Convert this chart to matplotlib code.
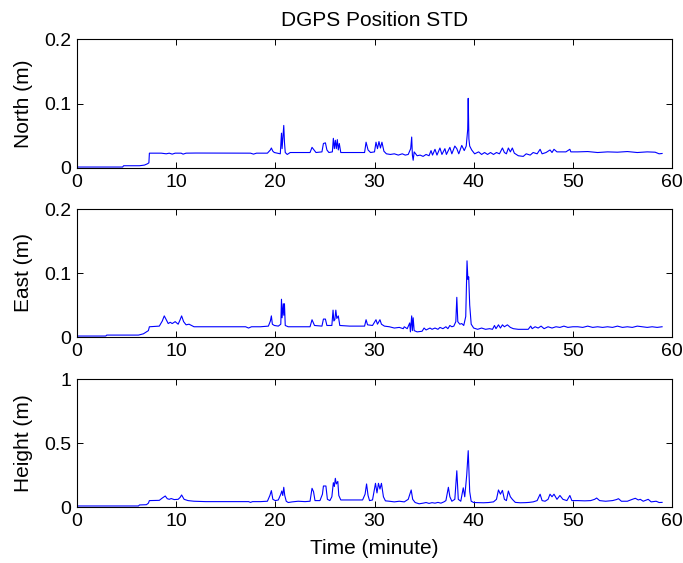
import matplotlib
matplotlib.use("Agg")
import matplotlib.pyplot as plt

plt.rcParams['font.family'] = ['Liberation Sans', 'DejaVu Sans']

title = "DGPS Position STD"
xlabel = "Time (minute)"
ylabels = ["North (m)", "East (m)", "Height (m)"]
xticks = [0, 10, 20, 30, 40, 50, 60]
yticks_ne = [0, 0.1, 0.2]
yticks_h = [0, 0.5, 1]
ytick_labels_ne = ["0", "0.1", "0.2"]
ytick_labels_h = ["0", "0.5", "1"]

north = [(0, 0.0015), (4.6, 0.0015), (4.7, 0.0035), (6.3, 0.0035), (6.8, 0.0045), (7.1, 0.0065), (7.25, 0.008),
         (7.3, 0.023), (8.5, 0.023), (9.0, 0.022), (9.3, 0.023), (9.6, 0.0215), (9.9, 0.023), (10.5, 0.023),
         (10.7, 0.0215), (11.0, 0.023), (12, 0.0232), (15, 0.023), (17.5, 0.023), (17.8, 0.0215), (18.1, 0.023),
         (19.2, 0.023), (19.5, 0.028), (19.6, 0.031), (19.75, 0.026), (19.9, 0.024), (20.2, 0.023), (20.5, 0.022),
         (20.62, 0.054), (20.68, 0.030), (20.75, 0.045), (20.85, 0.066), (20.92, 0.040), (21.0, 0.024), (21.2, 0.021),
         (21.5, 0.024), (22.5, 0.024), (23.5, 0.024), (23.7, 0.032), (23.9, 0.028), (24.1, 0.024), (24.7, 0.025),
         (24.85, 0.038), (25.05, 0.039), (25.2, 0.028), (25.4, 0.024), (25.75, 0.025), (25.85, 0.046), (25.95, 0.030),
         (26.05, 0.043), (26.15, 0.030), (26.25, 0.044), (26.35, 0.028), (26.45, 0.038), (26.6, 0.024), (27.5, 0.024),
         (29.0, 0.024), (29.15, 0.040), (29.35, 0.028), (29.6, 0.024), (30.0, 0.025), (30.15, 0.040), (30.3, 0.030),
         (30.45, 0.041), (30.6, 0.031), (30.75, 0.040), (30.95, 0.026), (31.2, 0.022), (31.6, 0.021), (32.0, 0.022),
         (32.4, 0.020), (32.8, 0.022), (33.1, 0.020), (33.4, 0.021), (33.65, 0.030), (33.75, 0.048), (33.82, 0.020),
         (33.9, 0.012), (34.0, 0.025), (34.3, 0.019), (34.6, 0.020), (34.9, 0.018), (35.2, 0.021), (35.5, 0.019),
         (35.7, 0.027), (35.85, 0.020), (36.1, 0.029), (36.3, 0.020), (36.6, 0.031), (36.8, 0.021), (37.1, 0.030),
         (37.25, 0.021), (37.6, 0.032), (37.8, 0.022), (38.1, 0.034), (38.3, 0.030), (38.5, 0.022), (38.8, 0.035),
         (39.05, 0.027), (39.25, 0.034), (39.4, 0.060), (39.45, 0.108), (39.52, 0.045), (39.6, 0.034), (39.8, 0.028),
         (40.1, 0.022), (40.5, 0.025), (40.8, 0.021), (41.1, 0.024), (41.4, 0.021), (41.7, 0.024), (42.0, 0.021),
         (42.3, 0.024), (42.6, 0.022), (42.9, 0.031), (43.1, 0.024), (43.3, 0.022), (43.5, 0.031), (43.7, 0.025),
         (43.9, 0.031), (44.1, 0.023), (44.5, 0.019), (45.0, 0.018), (45.3, 0.022), (45.7, 0.020), (46.0, 0.024),
         (46.4, 0.022), (46.7, 0.029), (46.9, 0.022), (47.3, 0.024), (47.7, 0.028), (47.9, 0.024), (48.1, 0.029),
         (48.4, 0.025), (48.8, 0.025), (49.3, 0.025), (49.7, 0.029), (49.8, 0.025), (50.5, 0.025), (51.5, 0.0255),
         (52.5, 0.024), (53.5, 0.025), (54.5, 0.0245), (55.5, 0.0255), (56.5, 0.024), (57.5, 0.025), (58.3, 0.0245),
         (58.7, 0.022), (59.0, 0.0225)]

east = [(0, 0.0015), (2.9, 0.0015), (3.0, 0.003), (6.2, 0.003), (6.7, 0.005), (7.0, 0.008), (7.2, 0.010), (7.3, 0.016),
        (8.3, 0.017), (8.6, 0.025), (8.8, 0.033), (9.0, 0.027), (9.2, 0.021), (9.4, 0.023), (9.6, 0.021), (9.9, 0.024),
        (10.2, 0.020), (10.4, 0.027), (10.55, 0.033), (10.75, 0.024), (11.0, 0.019), (11.3, 0.020), (11.8, 0.016),
        (13, 0.016), (16, 0.016), (17.0, 0.016), (17.3, 0.014), (17.6, 0.016), (18.5, 0.016), (19.3, 0.017),
        (19.5, 0.025), (19.6, 0.033), (19.7, 0.020), (19.9, 0.018), (20.3, 0.017), (20.55, 0.020), (20.62, 0.059),
        (20.68, 0.030), (20.8, 0.052), (20.85, 0.034), (20.92, 0.052), (21.0, 0.018), (21.3, 0.016), (23.5, 0.016),
        (23.7, 0.027), (23.95, 0.018), (24.7, 0.017), (24.85, 0.028), (25.05, 0.028), (25.2, 0.018), (25.7, 0.018),
        (25.82, 0.042), (25.9, 0.025), (26.0, 0.027), (26.1, 0.042), (26.2, 0.029), (26.35, 0.033), (26.5, 0.018),
        (27.5, 0.017), (29.0, 0.017), (29.15, 0.027), (29.3, 0.019), (29.8, 0.018), (30.15, 0.027), (30.3, 0.020),
        (30.55, 0.027), (30.7, 0.020), (31.0, 0.017), (31.5, 0.016), (32.0, 0.014), (32.5, 0.015), (32.9, 0.013),
        (33.0, 0.016), (33.3, 0.013), (33.55, 0.022), (33.62, 0.008), (33.75, 0.033), (33.82, 0.010), (33.9, 0.030),
        (34.0, 0.010), (34.3, 0.008), (34.8, 0.009), (35.0, 0.014), (35.2, 0.011), (35.6, 0.014), (35.8, 0.012),
        (36.1, 0.014), (36.4, 0.012), (36.6, 0.015), (36.9, 0.013), (37.2, 0.016), (37.4, 0.013), (37.6, 0.018),
        (37.8, 0.016), (38.0, 0.017), (38.2, 0.024), (38.3, 0.062), (38.4, 0.024), (38.6, 0.020), (38.8, 0.021),
        (39.0, 0.018), (39.2, 0.032), (39.33, 0.119), (39.42, 0.090), (39.5, 0.094), (39.6, 0.050), (39.75, 0.020),
        (40.0, 0.014), (40.4, 0.012), (40.8, 0.014), (41.2, 0.012), (41.6, 0.013), (41.9, 0.012), (42.1, 0.018),
        (42.25, 0.013), (42.5, 0.019), (42.7, 0.014), (42.9, 0.019), (43.1, 0.016), (43.4, 0.019), (43.7, 0.015),
        (44.0, 0.013), (44.5, 0.012), (45.0, 0.012), (45.5, 0.012), (45.75, 0.017), (45.9, 0.013), (46.2, 0.016),
        (46.5, 0.014), (46.8, 0.017), (47.1, 0.013), (47.5, 0.016), (47.9, 0.014), (48.3, 0.016), (48.7, 0.015),
        (49.1, 0.017), (49.5, 0.015), (50.0, 0.016), (50.5, 0.016), (51.0, 0.015), (51.5, 0.017), (52.0, 0.015),
        (52.5, 0.016), (53.0, 0.015), (53.5, 0.016), (54.0, 0.015), (54.5, 0.017), (55.0, 0.015), (55.5, 0.016),
        (56.0, 0.015), (56.5, 0.017), (57.0, 0.016), (57.5, 0.015), (58.0, 0.016), (58.5, 0.015), (59.0, 0.016)]

height = [(0, 0.008), (6.2, 0.008), (6.3, 0.016), (7.0, 0.018), (7.2, 0.030), (7.3, 0.050), (8.3, 0.052), (8.6, 0.070),
          (8.9, 0.086), (9.1, 0.065), (9.3, 0.060), (9.5, 0.066), (9.8, 0.058), (10.2, 0.060), (10.4, 0.075),
          (10.55, 0.094), (10.8, 0.060), (11.2, 0.050), (11.8, 0.045), (13, 0.042), (16, 0.042), (17.3, 0.042),
          (17.5, 0.036), (17.7, 0.042), (18.5, 0.042), (19.2, 0.045), (19.45, 0.090), (19.6, 0.128), (19.75, 0.060),
          (20.0, 0.050), (20.3, 0.055), (20.55, 0.100), (20.65, 0.125), (20.75, 0.090), (20.85, 0.154), (20.95, 0.090),
          (21.1, 0.045), (21.3, 0.035), (21.7, 0.040), (22.3, 0.045), (23.0, 0.042), (23.5, 0.045), (23.7, 0.146),
          (23.85, 0.120), (24.0, 0.050), (24.5, 0.050), (24.75, 0.100), (24.85, 0.164), (25.1, 0.164), (25.25, 0.060),
          (25.5, 0.050), (25.7, 0.080), (25.85, 0.190), (25.95, 0.160), (26.05, 0.224), (26.15, 0.180), (26.3, 0.200),
          (26.4, 0.090), (26.6, 0.055), (27.5, 0.055), (28.8, 0.055), (29.05, 0.100), (29.2, 0.180), (29.35, 0.090),
          (29.5, 0.050), (29.8, 0.055), (30.1, 0.185), (30.25, 0.110), (30.4, 0.185), (30.55, 0.140), (30.7, 0.185),
          (30.9, 0.080), (31.1, 0.048), (31.5, 0.045), (32.0, 0.040), (32.5, 0.045), (33.0, 0.040), (33.4, 0.060),
          (33.7, 0.133), (33.85, 0.060), (34.1, 0.035), (34.5, 0.025), (34.9, 0.030), (35.2, 0.035), (35.5, 0.028),
          (35.8, 0.034), (36.1, 0.030), (36.4, 0.036), (36.7, 0.030), (37.0, 0.040), (37.2, 0.050), (37.45, 0.154),
          (37.6, 0.080), (37.8, 0.045), (38.1, 0.060), (38.3, 0.283), (38.45, 0.060), (38.7, 0.045), (38.95, 0.150),
          (39.1, 0.080), (39.3, 0.250), (39.45, 0.440), (39.6, 0.120), (39.75, 0.045), (40.0, 0.035), (40.5, 0.034),
          (41.0, 0.033), (41.5, 0.035), (42.0, 0.040), (42.3, 0.060), (42.5, 0.133), (42.7, 0.100), (42.9, 0.130),
          (43.1, 0.060), (43.3, 0.050), (43.5, 0.125), (43.7, 0.080), (43.9, 0.060), (44.2, 0.036), (44.7, 0.033),
          (45.2, 0.034), (45.6, 0.036), (46.0, 0.040), (46.4, 0.050), (46.7, 0.100), (46.9, 0.050), (47.2, 0.045),
          (47.5, 0.060), (47.7, 0.100), (47.9, 0.080), (48.1, 0.100), (48.4, 0.060), (48.7, 0.090), (49.0, 0.060),
          (49.4, 0.050), (49.7, 0.090), (49.9, 0.050), (50.5, 0.050), (51.2, 0.048), (51.8, 0.050), (52.2, 0.060),
          (52.4, 0.070), (52.7, 0.050), (53.3, 0.045), (54.0, 0.050), (54.4, 0.058), (54.6, 0.065), (54.9, 0.045),
          (55.5, 0.045), (56.0, 0.060), (56.3, 0.068), (56.6, 0.055), (56.8, 0.060), (57.1, 0.045), (57.6, 0.060),
          (57.9, 0.040), (58.4, 0.045), (58.7, 0.035), (59.0, 0.036)]

series = [north, east, height]
ylims = [(0, 0.2), (0, 0.2), (0, 1)]
yticks = [yticks_ne, yticks_ne, yticks_h]
ytlabels = [ytick_labels_ne, ytick_labels_ne, ytick_labels_h]

W, H = 683, 563
fig = plt.figure(figsize=(W / 100, H / 100), dpi=100)
boxes = [(77, 39, 672, 168), (77, 209, 672, 337), (77, 379, 672, 507)]
fs_tick = 14
fs_lab = 15
for i, (x0, y0, x1, y1) in enumerate(boxes):
    ax = fig.add_axes([x0 / W, 1 - y1 / H, (x1 - x0) / W, (y1 - y0) / H])
    t, v = zip(*series[i])
    ax.plot(t, v, color=(0, 0, 1), lw=0.8)
    ax.set_xlim(0, 60)
    ax.set_ylim(*ylims[i])
    ax.set_xticks(xticks)
    ax.set_xticklabels([str(x) for x in xticks], fontsize=fs_tick)
    ax.set_yticks(yticks[i])
    ax.set_yticklabels(ytlabels[i], fontsize=fs_tick)
    ax.tick_params(direction='in', top=True, right=True, length=4.5, width=0.7, pad=4, colors='black')
    for s in ax.spines.values():
        s.set_linewidth(0.8)
    ax.set_ylabel(ylabels[i], fontsize=fs_lab, labelpad=8)
    if i == 0:
        ax.set_title(title, fontsize=fs_lab, pad=9)
    if i == 2:
        ax.set_xlabel(xlabel, fontsize=fs_lab, labelpad=7)

fig.savefig("out.png", dpi=100)
